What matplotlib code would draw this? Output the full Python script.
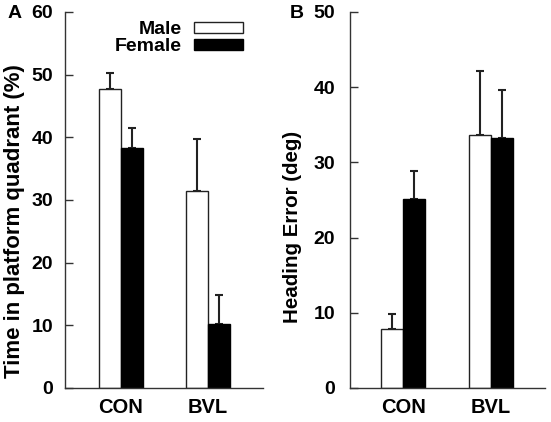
import matplotlib
matplotlib.use("Agg")
import matplotlib.pyplot as plt
import numpy as np

plt.rcParams['font.family'] = ['Liberation Sans', 'DejaVu Sans']
plt.rcParams['font.weight'] = 'bold'

groups = ["CON", "BVL"]
series = ["Male", "Female"]

# Panel A: Time in platform quadrant (%)
a_male = [47.7, 31.5]
a_male_err = [2.5, 8.2]
a_female = [38.3, 10.2]
a_female_err = [3.2, 4.7]
a_ticks = [0, 10, 20, 30, 40, 50, 60]

# Panel B: Heading Error (deg)
b_male = [7.9, 33.7]
b_male_err = [2.0, 8.5]
b_female = [25.1, 33.2]
b_female_err = [3.7, 6.4]
b_ticks = [0, 10, 20, 30, 40, 50]

fig = plt.figure(figsize=(5.51, 4.22), dpi=100)
axA = fig.add_axes([0.118, 0.0806, 0.359, 0.891])
axB = fig.add_axes([0.635, 0.0806, 0.354, 0.891])

def draw(ax, male, male_err, female, female_err, ticks, ylabel, xlim, ypad, ylsize, ylpos):
    x = np.arange(len(groups))
    w = 0.253
    ax.bar(x - w/2, male, w, color='white', edgecolor='#222222', linewidth=1.0, label=series[0], zorder=2)
    ax.bar(x + w/2, female, w, color='black', edgecolor='black', linewidth=1.0, label=series[1], zorder=2)
    ax.errorbar(x - w/2, male, yerr=[np.zeros(len(male)), male_err], fmt='none',
                ecolor='#222222', elinewidth=1.5, capsize=2.6, capthick=1.5, zorder=1)
    ax.errorbar(x + w/2, female, yerr=[np.zeros(len(female)), female_err], fmt='none',
                ecolor='#222222', elinewidth=1.5, capsize=2.6, capthick=1.5, zorder=1)
    ax.set_ylim(ticks[0], ticks[-1])
    ax.set_xlim(*xlim)
    ax.set_yticks(ticks)
    ax.set_xticks(x)
    ax.set_xticklabels(groups, fontsize=14.5, fontweight='bold')
    ax.tick_params(axis='y', direction='in', length=6, width=1, labelsize=14, pad=ypad, color='#333333')
    ax.tick_params(axis='x', length=0, pad=7)
    for lab in ax.get_yticklabels():
        lab.set_fontweight('bold')
    for s in ['top', 'right']:
        ax.spines[s].set_visible(False)
    for s in ['left', 'bottom']:
        ax.spines[s].set_color('#333333')
        ax.spines[s].set_linewidth(1.0)
    ax.set_ylabel(ylabel, fontsize=ylsize, fontweight='bold', labelpad=4)
    ax.yaxis.set_label_coords(ylpos[0], ylpos[1])

draw(axA, a_male, a_male_err, a_female, a_female_err, a_ticks,
     "Time in platform quadrant (%)", (-0.644, 1.632), 8.5, 16, (-0.20, 0.444))
draw(axB, b_male, b_male_err, b_female, b_female_err, b_ticks,
     "Heading Error (deg)", (-0.61, 1.62), 10.5, 14.8, (-0.246, 0.428))

leg = axA.legend(loc='upper right', bbox_to_anchor=(0.899, 0.976), markerfirst=False, frameon=False,
                 prop={'weight': 'bold', 'size': 14}, handlelength=2.5, handleheight=0.5,
                 labelspacing=0.0, handletextpad=0.65, borderaxespad=0, borderpad=0)

fig.text(0.013, 0.988, "A", fontsize=14, fontweight='bold', va='top')
fig.text(0.526, 0.988, "B", fontsize=14, fontweight='bold', va='top')

fig.savefig("out.png", dpi=100)
